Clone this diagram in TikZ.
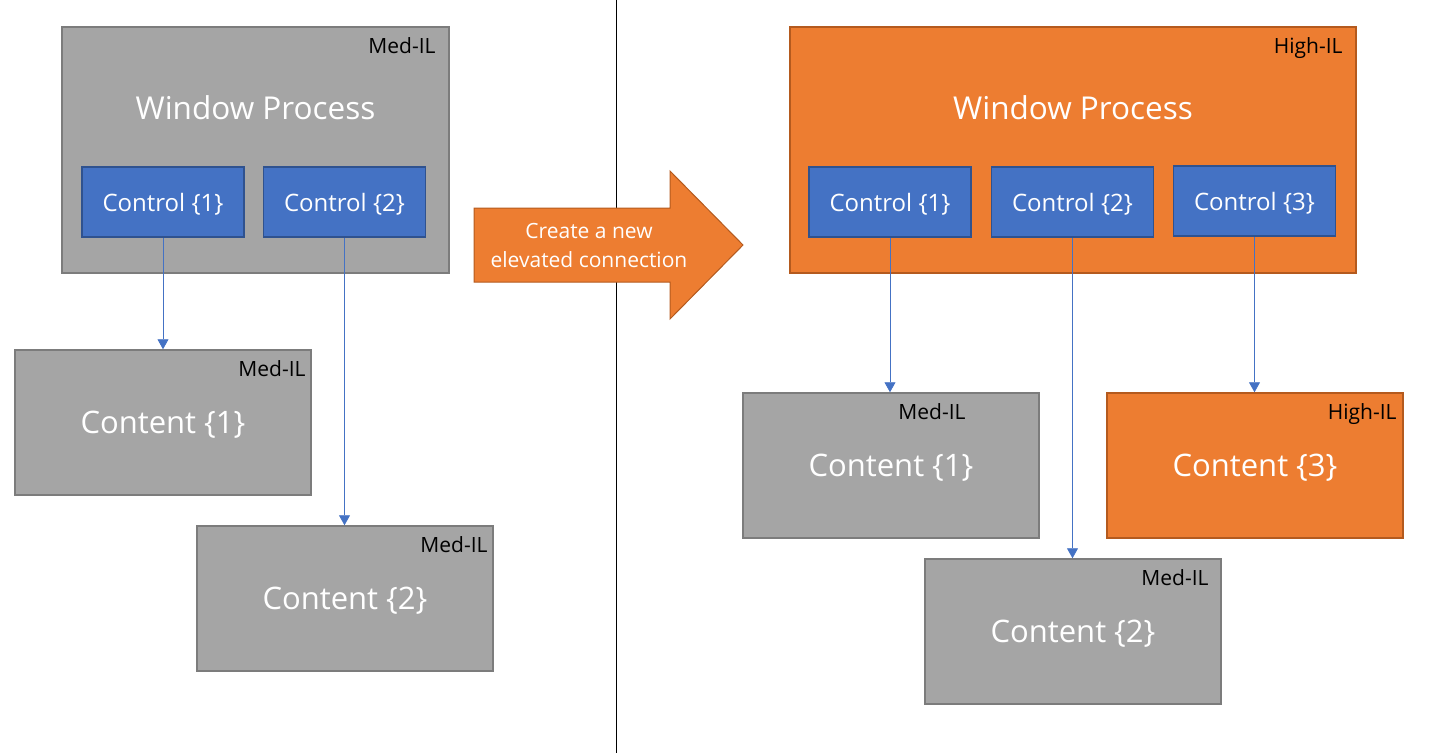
\documentclass[tikz,border=0pt]{standalone}
\usepackage{fontspec}
\setmainfont{Open Sans}
\usetikzlibrary{positioning}
\usetikzlibrary{arrows.meta}
\tikzstyle{pixelGrid} = [x = 1pt, y = -1pt]
\definecolor{medFill}{RGB}{165,165,165}
\definecolor{medLine}{RGB}{124,124,124}
\definecolor{highFill}{RGB}{237,125,49}
\definecolor{highLine}{RGB}{180,90,30}
\definecolor{ctrlFill}{RGB}{68,114,196}
\definecolor{ctrlLine}{RGB}{47,82,143}
\tikzstyle{medStyle} = [draw=medLine, fill=medFill, line width=1.5pt]
\tikzstyle{highStyle} = [draw=highLine, fill=highFill, line width=1.5pt]
\tikzstyle{processStyle} = [minimum height=246pt, inner sep=0pt]
\tikzstyle{contentStyle} = [minimum width=296pt, minimum height=145pt, inner sep=0pt, text depth=0pt, text=white, font=\fontsize{31}{36}\selectfont]
\tikzstyle{controlStyle} = [draw=ctrlLine, fill=ctrlFill, line width=1.5pt, minimum width=162pt, minimum height=70pt, inner sep=0pt, text depth=0pt, text=white, font=\fontsize{24}{28}\selectfont]
\tikzstyle{levelText} = [inner sep=0pt, font=\fontsize{21}{25}\selectfont]
\tikzstyle{titleText} = [inner sep=0pt, text=white, font=\fontsize{31.5}{36}\selectfont]
\tikzstyle{arrowText} = [inner sep=0pt, align=center, text=white, font=\fontsize{21}{29}\selectfont]
\tikzstyle{linkStyle} = [color=ctrlFill, line width=.8pt, -{Triangle[length=10pt, width=11pt]}]
\newcommand{\processBox}[6]{
  \node [#2, processStyle, minimum width=#5pt] (#1) at (#3, #4) {};
  \node [titleText] (#1Title) at (#3, #4 - 42) {Window Process};
  \node [levelText, below left=11pt and 14pt of #1.north east] (#1Level) {#6};
}
\newcommand{\contentBox}[7]{
  \node [#2, contentStyle] (#1) at (#3, #4) {Content \{#5\}};
  \node [levelText, below left=11pt and #7pt of #1.north east] (#1Level) {#6};
}
\newcommand{\controlBox}[4]{\node [controlStyle] (#1) at (#2, #3) {Control \{#4\}};}

\begin{document}
\begin{tikzpicture}[pixelGrid]
  \useasboundingbox (0, 0) rectangle (1441, 753);
  \coordinate (divTop) at (616, 0);
  \coordinate (divBottom) at (616, 753);
  \draw [line width=1pt] (divTop) -- (divBottom);

  \processBox{winL}{medStyle}{255.5}{150}{387}{Med-IL}
  \controlBox{ctrlL1}{163}{202}{1}
  \controlBox{ctrlL2}{344.5}{202}{2}
  \contentBox{contL1}{medStyle}{163}{422.5}{1}{Med-IL}{6}
  \contentBox{contL2}{medStyle}{345}{598.5}{2}{Med-IL}{6}
  \draw [linkStyle] (ctrlL1.south) -- (ctrlL1.south |- contL1.north);
  \draw [linkStyle] (ctrlL2.south) -- (ctrlL2.south |- contL2.north);

  \filldraw [highStyle, line width=1pt] (474, 208) -- (670, 208) -- (670, 171) -- (743, 245)
    -- (670, 319) -- (670, 282) -- (474, 282) -- cycle;
  \node [arrowText] (elevate) at (589, 245) {Create a new\\elevated connection};

  \processBox{winR}{highStyle}{1073}{150}{566}{High-IL}
  \controlBox{ctrlR1}{890}{202}{1}
  \controlBox{ctrlR2}{1072.5}{202}{2}
  \controlBox{ctrlR3}{1254.5}{201}{3}
  \contentBox{contR1}{medStyle}{891}{465.5}{1}{Med-IL}{74}
  \contentBox{contR2}{medStyle}{1073}{631.5}{2}{Med-IL}{13}
  \contentBox{contR3}{highStyle}{1255}{465.5}{3}{High-IL}{7}
  \draw [linkStyle] (ctrlR1.south) -- (ctrlR1.south |- contR1.north);
  \draw [linkStyle] (ctrlR2.south) -- (ctrlR2.south |- contR2.north);
  \draw [linkStyle] (ctrlR3.south) -- (ctrlR3.south |- contR3.north);
\end{tikzpicture}
\end{document}
